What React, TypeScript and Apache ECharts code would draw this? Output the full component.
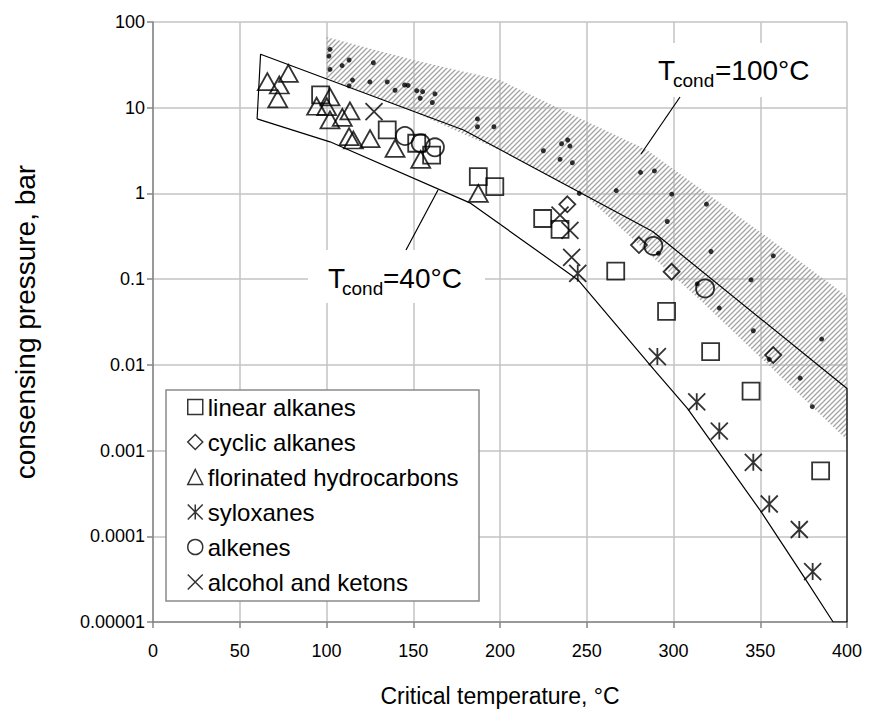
import React, { useEffect, useRef } from 'react';
import * as echarts from 'echarts';

const FONT = '"Liberation Sans", Arial, Helvetica, sans-serif';

// y tick labels (log axis, exponent -5 .. 2)
const yTickLabels = ['0.00001', '0.0001', '0.001', '0.01', '0.1', '1', '10', '100'];

// Series values: [critical temperature °C, condensing pressure bar]
const linearAlkanes = [
  [96.6, 14.1], [135, 5.5], [152, 3.85], [160.6, 2.8], [187.5, 1.57], [197, 1.2],
  [224.6, 0.51], [234.6, 0.38], [266.7, 0.124], [296, 0.042], [321.4, 0.0143],
  [344.7, 0.00495], [384.8, 0.00058],
];
const cyclicAlkanes = [[238.8, 0.746], [280.1, 0.25], [298.9, 0.122], [357.5, 0.013]];
const fluorinated = [
  [78, 25.2], [65.9, 20.1], [72.8, 18.4], [71.9, 12.7], [102, 13.4], [94.3, 10.4],
  [100.1, 10.3], [102, 7.2], [113.5, 9.2], [109.1, 7.7], [113, 4.6], [115.5, 4.2],
  [125.1, 4.35], [139.5, 3.36], [154.3, 2.5], [187.5, 1.0],
];
const syloxanes = [
  [244.8, 0.117], [290.7, 0.0125], [313.4, 0.0037], [326.4, 0.00169], [346, 0.00073],
  [355.2, 0.000238], [372.5, 0.00012], [380.2, 0.0000387],
];
const alkenes = [[145.2, 4.68], [154.3, 3.85], [162.5, 3.45], [288.4, 0.244], [318.2, 0.078]];
const alcoholsKetons = [[127.4, 9.0], [234.6, 0.56], [240.3, 0.37], [241.3, 0.18]];

// same fluids at T_cond = 100 °C (small dots)
const dots100 = [
  [102, 48], [101.4, 40], [113, 36], [109, 31], [102, 28], [127, 33.5], [115, 21], [113, 18],
  [125, 20], [135, 20], [139.5, 16], [145, 18.4], [147, 18.2], [152, 15.8], [155.4, 15.4],
  [154, 12.9], [162.5, 14.5], [161, 11.5], [187, 7.4], [187, 6.0], [196.5, 6.0], [225, 3.15],
  [235.5, 3.8], [239, 4.2], [240.3, 3.57], [234.6, 2.5], [241.7, 2.28], [245.7, 1.0],
  [267, 1.08], [281, 1.76], [289, 1.83], [299, 0.98], [296.4, 0.47], [319, 0.75],
  [321.6, 0.21], [357.5, 0.187], [291.3, 0.2], [344.7, 0.098], [313.7, 0.088],
  [326.4, 0.046], [346, 0.025], [385.4, 0.02], [355.2, 0.0116], [373, 0.007], [380, 0.00325],
];

// boundary curves
const curve40 = [
  [60, 7.4], [102, 4.0], [183, 0.77], [245, 0.098], [289, 0.0087], [308, 0.0031],
  [321, 0.00133], [350, 0.0002], [375, 0.000034], [392, 0.00001], [400, 0.00001],
];
const curve100 = [[62, 42], [179, 5.5], [288, 0.36], [400, 0.0053]];

// hatched band
const bandX = [100, 150, 200, 250, 285, 315, 355, 400];
const bandUpper = [67, 36, 21, 6.9, 3.2, 1.16, 0.3, 0.063];
const bandLower = [22.4, 9.0, 3.2, 0.91, 0.204, 0.058, 0.0098, 0.00133];

const X_PATH = 'path://M0,0L10,10M10,0L0,10';
const STAR_PATH = 'path://M0,0L10,10M10,0L0,10M5,0L5,10';

export default function App() {
  const ref = useRef<HTMLDivElement>(null);

  useEffect(() => {
    const chart = echarts.init(ref.current!, null, { renderer: 'svg' });

    const S = 5;
    const c = document.createElement('canvas');
    c.width = S;
    c.height = S;
    const ctx = c.getContext('2d')!;
    ctx.strokeStyle = '#a4a4a4';
    ctx.lineWidth = 1.3;
    ctx.beginPath();
    ctx.moveTo(0, S); ctx.lineTo(S, 0);
    ctx.moveTo(-1, 1); ctx.lineTo(1, -1);
    ctx.moveTo(S - 1, S + 1); ctx.lineTo(S + 1, S - 1);
    ctx.stroke();
    const pattern: any = { image: c.toDataURL(), repeat: 'repeat', imageWidth: S, imageHeight: S };

    const outline = [...curve40, ...curve100.slice().reverse(), curve40[0]];

    const marker = (name: string, data: number[][], symbol: string, size: any) => ({
      type: 'scatter',
      name,
      data,
      symbol,
      symbolSize: size,
      itemStyle: { color: 'transparent', borderColor: '#000', borderWidth: 1.8 },
      z: 4,
      silent: true,
    });
    const legendStyle = { color: 'transparent', borderColor: '#000', borderWidth: 1.5 };

    const txt = (text: string, x: number, y: number, size: number, extra: any = {}) => ({
      type: 'text',
      x,
      y,
      z: 7,
      ...extra,
      style: {
        text,
        fontSize: size,
        fontFamily: FONT,
        fill: '#000',
        align: extra.align || 'left',
        textAlign: extra.align || 'left',
        verticalAlign: 'middle',
        textVerticalAlign: 'middle',
      },
    });

    const option: any = {
      animation: false,
      backgroundColor: '#fff',
      grid: { left: 153, right: 22, top: 22, bottom: 100, containLabel: false },
      xAxis: {
        type: 'value',
        min: 0,
        max: 400,
        interval: 50,
        axisLine: { show: true, onZero: false, lineStyle: { color: '#868686', width: 1.5 } },
        axisTick: { show: true, length: 6, lineStyle: { color: '#868686', width: 1.5 } },
        axisLabel: { fontSize: 18, fontFamily: FONT, color: '#000', margin: 20 },
        splitLine: { show: true, lineStyle: { color: '#c3c3c3', width: 1.5 } },
      },
      yAxis: {
        type: 'log',
        logBase: 10,
        min: 0.00001,
        max: 100,
        splitNumber: 7,
        axisLine: { show: true, onZero: false, lineStyle: { color: '#868686', width: 1.5 } },
        axisTick: { show: true, length: 6, lineStyle: { color: '#868686', width: 1.5 } },
        axisLabel: {
          fontSize: 18,
          fontFamily: FONT,
          color: '#000',
          margin: 8,
          formatter: (v: number) => yTickLabels[Math.round(Math.log10(v)) + 5] ?? '',
        },
        splitLine: { show: true, lineStyle: { color: '#c3c3c3', width: 1.5 } },
      },
      legend: {
        show: true,
        orient: 'vertical',
        left: 187,
        top: 395,
        padding: 0,
        itemWidth: 15,
        itemHeight: 15,
        itemGap: 11,
        selectedMode: false,
        textStyle: { fontSize: 24, fontFamily: FONT, color: '#000', lineHeight: 24 },
        data: [
          { name: 'linear alkanes', icon: 'rect', itemStyle: legendStyle },
          { name: 'cyclic alkanes', icon: 'diamond', itemStyle: legendStyle },
          { name: 'florinated hydrocarbons', icon: 'triangle', itemStyle: legendStyle },
          { name: 'syloxanes', icon: STAR_PATH, itemStyle: legendStyle },
          { name: 'alkenes', icon: 'circle', itemStyle: legendStyle },
          { name: 'alcohol and ketons', icon: X_PATH, itemStyle: legendStyle },
        ],
      },
      graphic: [
        {
          type: 'rect',
          z: 3,
          shape: { x: 166, y: 390, width: 313, height: 211 },
          style: { fill: '#fff', stroke: '#8a8a8a', lineWidth: 1.5 },
        },
        { type: 'rect', z: 6, shape: { x: 308, y: 250, width: 177, height: 53 }, style: { fill: '#fff' } },
        { type: 'rect', z: 6, shape: { x: 638, y: 43, width: 195, height: 54 }, style: { fill: '#fff' } },
        { type: 'line', z: 6, shape: { x1: 680, y1: 97, x2: 641, y2: 154 }, style: { stroke: '#000', lineWidth: 1.2 } },
        { type: 'line', z: 6, shape: { x1: 438, y1: 190, x2: 406, y2: 250 }, style: { stroke: '#000', lineWidth: 1.2 } },
        txt('T', 658, 70.7, 28),
        txt('cond', 673, 80.5, 19),
        txt('=100°C', 715, 70.7, 28),
        txt('T', 328, 278, 28),
        txt('cond', 342, 288, 19),
        txt('=40°C', 383, 278, 28),
        txt('Critical temperature, °C', 500, 696, 23, { align: 'center' }),
        txt('consensing pressure, bar', 25, 322, 28, { align: 'center', rotation: Math.PI / 2 }),
      ],
      series: [
        {
          type: 'custom',
          name: 'band',
          coordinateSystem: 'cartesian2d',
          data: [[bandX[0], bandUpper[0]]],
          silent: true,
          z: 1,
          renderItem: (_params: any, api: any) => {
            const pts: number[][] = [];
            bandX.forEach((x, i) => pts.push(api.coord([x, bandUpper[i]])));
            for (let i = bandX.length - 1; i >= 0; i--) pts.push(api.coord([bandX[i], bandLower[i]]));
            return { type: 'polygon', shape: { points: pts }, style: { fill: pattern, stroke: null } };
          },
        },
        {
          type: 'line',
          name: 'outline',
          data: outline,
          symbol: 'none',
          showSymbol: false,
          silent: true,
          lineStyle: { color: '#000', width: 1.2 },
          z: 2,
        },
        {
          type: 'scatter',
          name: 'T100',
          data: dots100,
          symbol: 'circle',
          symbolSize: 5,
          itemStyle: { color: '#000' },
          silent: true,
          z: 3,
        },
        marker('linear alkanes', linearAlkanes, 'rect', 17),
        marker('cyclic alkanes', cyclicAlkanes, 'diamond', 16),
        marker('florinated hydrocarbons', fluorinated, 'triangle', [19, 17]),
        marker('syloxanes', syloxanes, STAR_PATH, 17),
        marker('alkenes', alkenes, 'circle', 18),
        marker('alcohol and ketons', alcoholsKetons, X_PATH, 17),
      ],
    };

    chart.setOption(option);
    return () => chart.dispose();
  }, []);

  return (
    <div
      ref={ref}
      style={{ position: 'fixed', left: 0, top: 0, width: 869, height: 722, background: '#fff' }}
    />
  );
}
